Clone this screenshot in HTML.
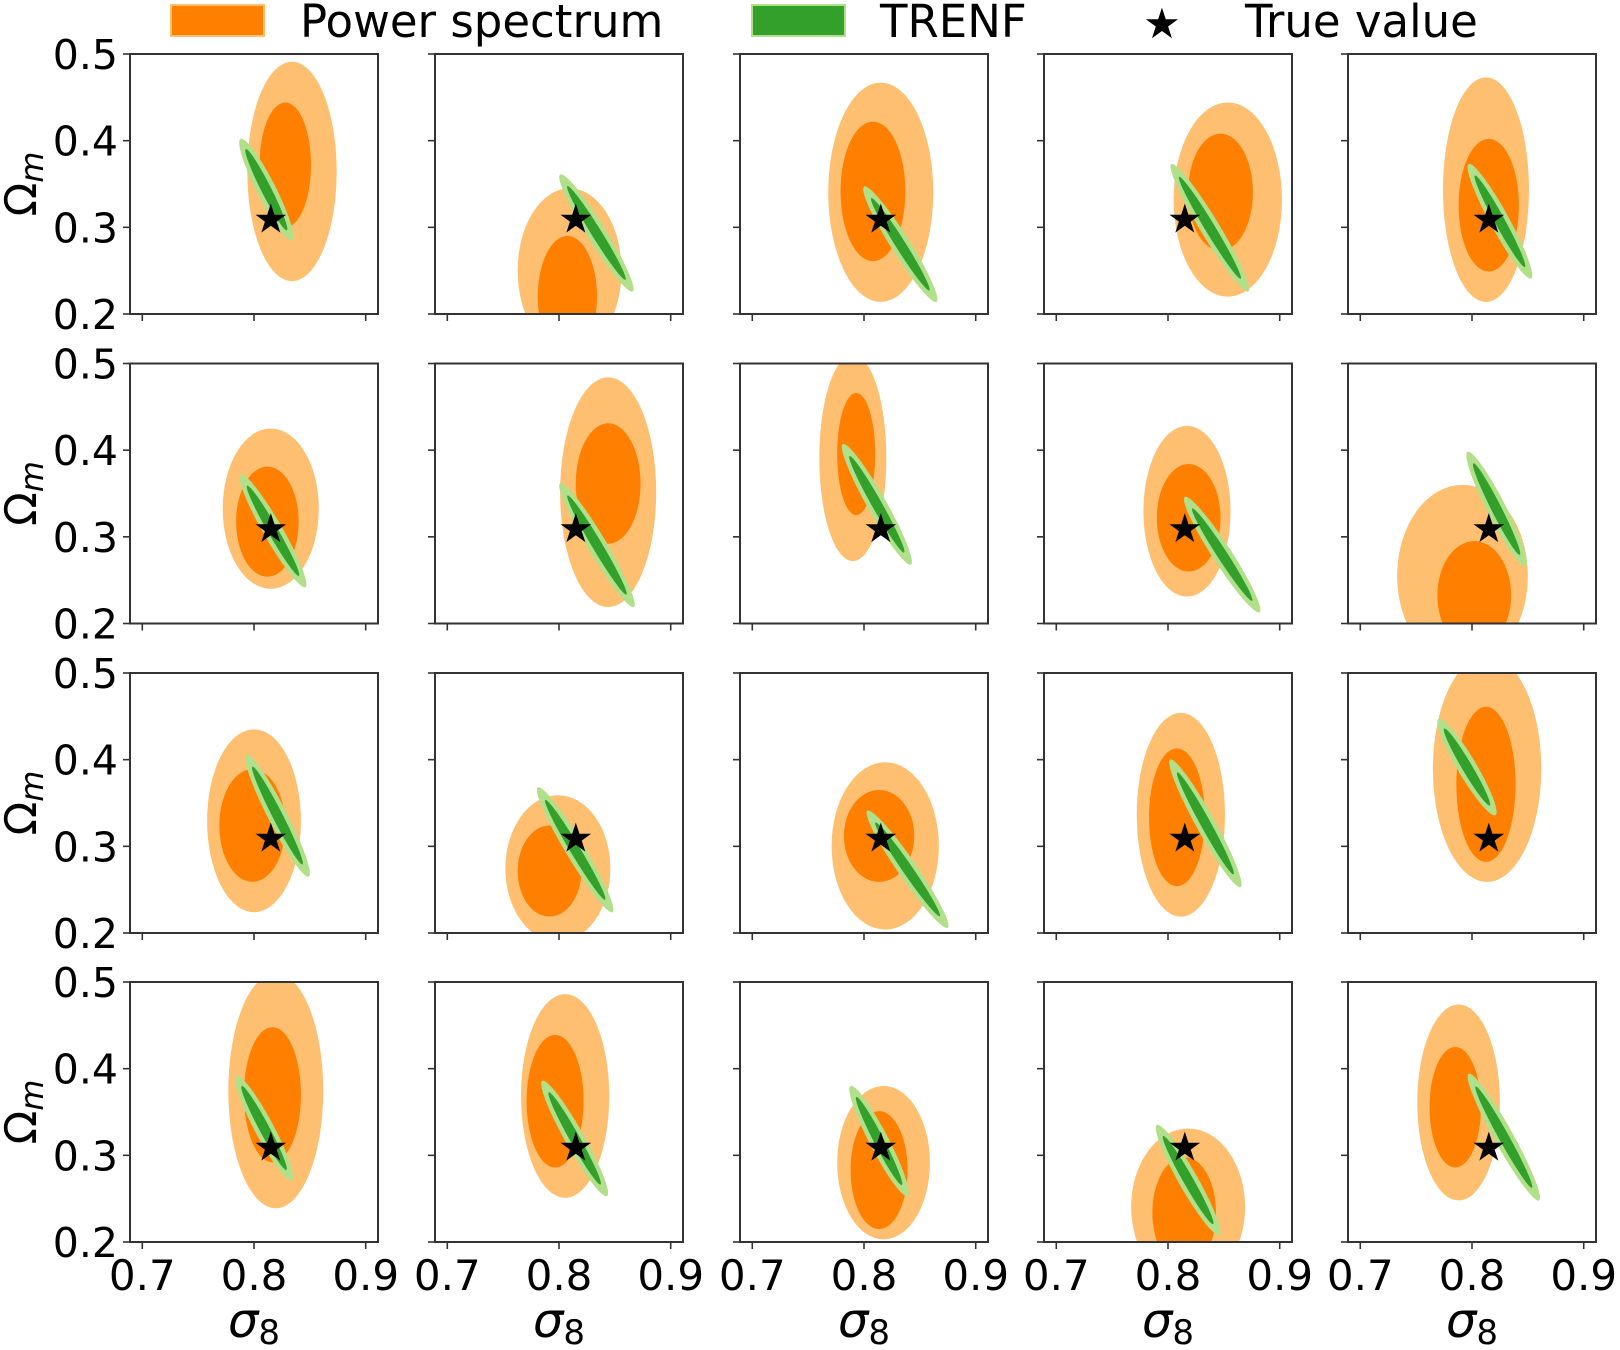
<!DOCTYPE html>
<html><head><meta charset="utf-8"><style>
html,body{margin:0;padding:0;background:#fff;}
svg{display:block;font-family:"DejaVu Sans","Liberation Sans",sans-serif;}
</style></head><body>
<svg id="chart" width="1620" height="1350" viewBox="0 0 1620 1350">
  <g>
    <rect x="171" y="5" width="93" height="31" fill="#ff7f00" stroke="#ffbf70" stroke-width="2"/>
    <text x="300" y="37" font-size="45">Power spectrum</text>
    <rect x="752" y="5" width="93" height="31" fill="#33a02c" stroke="#b2df8a" stroke-width="2"/>
    <text x="880" y="37" font-size="45">TRENF</text>
    <text x="1162" y="38" font-size="42" text-anchor="middle">★</text>
    <text x="1245" y="37" font-size="45">True value</text>
  </g>
  <g id="panels"></g>
</svg>
<script>
// true value
const trueSigma8 = 0.815;
const trueOmegaM = 0.31;
// Power spectrum outer (95%) contour bounds per panel: [sigma8 min, sigma8 max, Om min, Om max]
const psOuter = [
 [0.794,0.874,0.238,0.491],[0.763,0.856,0.155,0.345],[0.768,0.862,0.214,0.467],[0.805,0.902,0.220,0.444],[0.774,0.851,0.214,0.473],
 [0.772,0.858,0.240,0.425],[0.801,0.887,0.219,0.484],[0.760,0.820,0.272,0.510],[0.778,0.856,0.231,0.428],[0.733,0.850,0.150,0.360],
 [0.758,0.842,0.224,0.435],[0.752,0.846,0.190,0.359],[0.771,0.867,0.204,0.397],[0.772,0.851,0.219,0.454],[0.765,0.862,0.259,0.520],
 [0.777,0.862,0.239,0.510],[0.766,0.845,0.251,0.486],[0.776,0.859,0.203,0.380],[0.767,0.869,0.150,0.331],[0.751,0.825,0.248,0.474]
];
// Power spectrum inner (68%) contour bounds
const psInner = [
 [0.805,0.851,0.300,0.444],[0.781,0.834,0.150,0.290],[0.779,0.837,0.261,0.422],[0.818,0.876,0.273,0.408],[0.788,0.842,0.249,0.402],
 [0.784,0.840,0.254,0.381],[0.815,0.873,0.292,0.431],[0.776,0.810,0.325,0.466],[0.790,0.847,0.260,0.384],[0.769,0.835,0.170,0.295],
 [0.769,0.828,0.259,0.389],[0.763,0.820,0.219,0.324],[0.782,0.845,0.259,0.365],[0.783,0.833,0.254,0.413],[0.786,0.839,0.282,0.461],
 [0.791,0.842,0.292,0.448],[0.771,0.822,0.286,0.439],[0.788,0.839,0.215,0.351],[0.786,0.843,0.170,0.298],[0.762,0.808,0.286,0.425]
];
// TRENF degeneracy ellipse endpoints: [sigma8 a, Om a, sigma8 b, Om b]
const trenf = [
 [0.788,0.402,0.834,0.285],[0.801,0.361,0.866,0.226],[0.800,0.347,0.865,0.214],[0.803,0.373,0.872,0.226],[0.797,0.373,0.853,0.241],
 [0.788,0.372,0.846,0.242],[0.801,0.362,0.867,0.219],[0.781,0.407,0.842,0.268],[0.815,0.346,0.882,0.213],[0.796,0.398,0.848,0.266],
 [0.793,0.406,0.849,0.265],[0.781,0.368,0.848,0.224],[0.803,0.341,0.875,0.206],[0.802,0.400,0.865,0.253],[0.770,0.447,0.821,0.336],
 [0.784,0.392,0.834,0.271],[0.785,0.386,0.843,0.253],[0.788,0.380,0.839,0.253],[0.790,0.335,0.846,0.208],[0.797,0.394,0.860,0.248]
];
const xTicks = [0.7,0.8,0.9];
const yTicks = [0.2,0.3,0.4,0.5];
const xTickLabels = ["0.7","0.8","0.9"];
const yTickLabels = ["0.2","0.3","0.4","0.5"];

const NS = "http://www.w3.org/2000/svg";
const colLefts = [130,435,740,1044,1348];
const rowTops = [54,363.5,673,982];
const PW = 248, PH = 260;
const xMin = 0.689, xMax = 0.911, yMin = 0.2, yMax = 0.5;
function mk(tag, attrs, parent){const e=document.createElementNS(NS,tag);for(const k in attrs)e.setAttribute(k,attrs[k]);parent.appendChild(e);return e;}
const root = document.getElementById('panels');
const defs = mk('defs',{},root);

for(let i=0;i<20;i++){
  const r=Math.floor(i/5), c=i%5;
  const L=colLefts[c], T=rowTops[r];
  const sx=v=>L+(v-xMin)/(xMax-xMin)*PW;
  const sy=v=>T+PH-(v-yMin)/(yMax-yMin)*PH;
  const cp=mk('clipPath',{id:'clip'+i},defs);
  mk('rect',{x:L,y:T,width:PW,height:PH},cp);
  const g=mk('g',{},root);
  
  
  const cg=mk('g',{'clip-path':'url(#clip'+i+')'},g);
  [[psOuter[i],'#ffbf70','ps-95-contour'],[psInner[i],'#ff7f00','ps-68-contour']].forEach(([b,col,nm])=>{
    const e=mk('ellipse',{cx:(sx(b[0])+sx(b[1]))/2,cy:(sy(b[2])+sy(b[3]))/2,rx:(sx(b[1])-sx(b[0]))/2,ry:(sy(b[2])-sy(b[3]))/2,fill:col},cg);
    
    
  });
  const t=trenf[i];
  const x1=sx(t[0]),y1=sy(t[1]),x2=sx(t[2]),y2=sy(t[3]);
  const cx=(x1+x2)/2, cy=(y1+y2)/2, len=Math.hypot(x2-x1,y2-y1)/2;
  const ang=Math.atan2(y2-y1,x2-x1)*180/Math.PI;
  const go=mk('ellipse',{cx:cx,cy:cy,rx:len,ry:9.5,fill:'#b2df8a',transform:`rotate(${ang} ${cx} ${cy})`},cg);
  
  
  const gi=mk('ellipse',{cx:cx,cy:cy,rx:len*0.8,ry:5,fill:'#33a02c',transform:`rotate(${ang} ${cx} ${cy})`},cg);
  
  
  const st=mk('text',{x:sx(trueSigma8),y:sy(trueOmegaM)+14,'font-size':40,'text-anchor':'middle',fill:'#000'},g);
  st.textContent='★';
  
  
  const fr=mk('rect',{x:L,y:T,width:PW,height:PH,fill:'none',stroke:'#333',"stroke-width":2},g);
  
  
  xTicks.forEach((v,k)=>{
    const tk=mk('line',{x1:sx(v),x2:sx(v),y1:T+PH,y2:T+PH+7,stroke:'#333','stroke-width':1.6},g);
    
    
    if(r===3){
      const tl=mk('text',{x:sx(v),y:T+PH+48,'font-size':42,'text-anchor':'middle'},g);
      tl.textContent=xTickLabels[k];
      
      
    }
  });
  yTicks.forEach((v,k)=>{
    const tk=mk('line',{x1:L-7,x2:L,y1:sy(v),y2:sy(v),stroke:'#333','stroke-width':1.6},g);
    
    
    if(c===0){
      const tl=mk('text',{x:L-12,y:sy(v)+15,'font-size':41,'text-anchor':'end'},g);
      tl.textContent=yTickLabels[k];
      
      
    }
  });
  if(c===0){
    const yc=T+PH/2;
    const yl=mk('text',{x:0,y:0,'font-size':44,'text-anchor':'middle',transform:`translate(36 ${yc}) rotate(-90)`},g);
    yl.innerHTML='Ω<tspan font-style="italic" font-size="32" dy="7">m</tspan>';
    
    
  }
  if(r===3){
    const xl=mk('text',{x:L+PW/2,y:1337,'font-size':48,'text-anchor':'middle'},g);
    xl.innerHTML='<tspan font-style="italic">σ</tspan><tspan font-size="34" dy="7">8</tspan>';
    
    
  }
}
</script>
</body></html>
